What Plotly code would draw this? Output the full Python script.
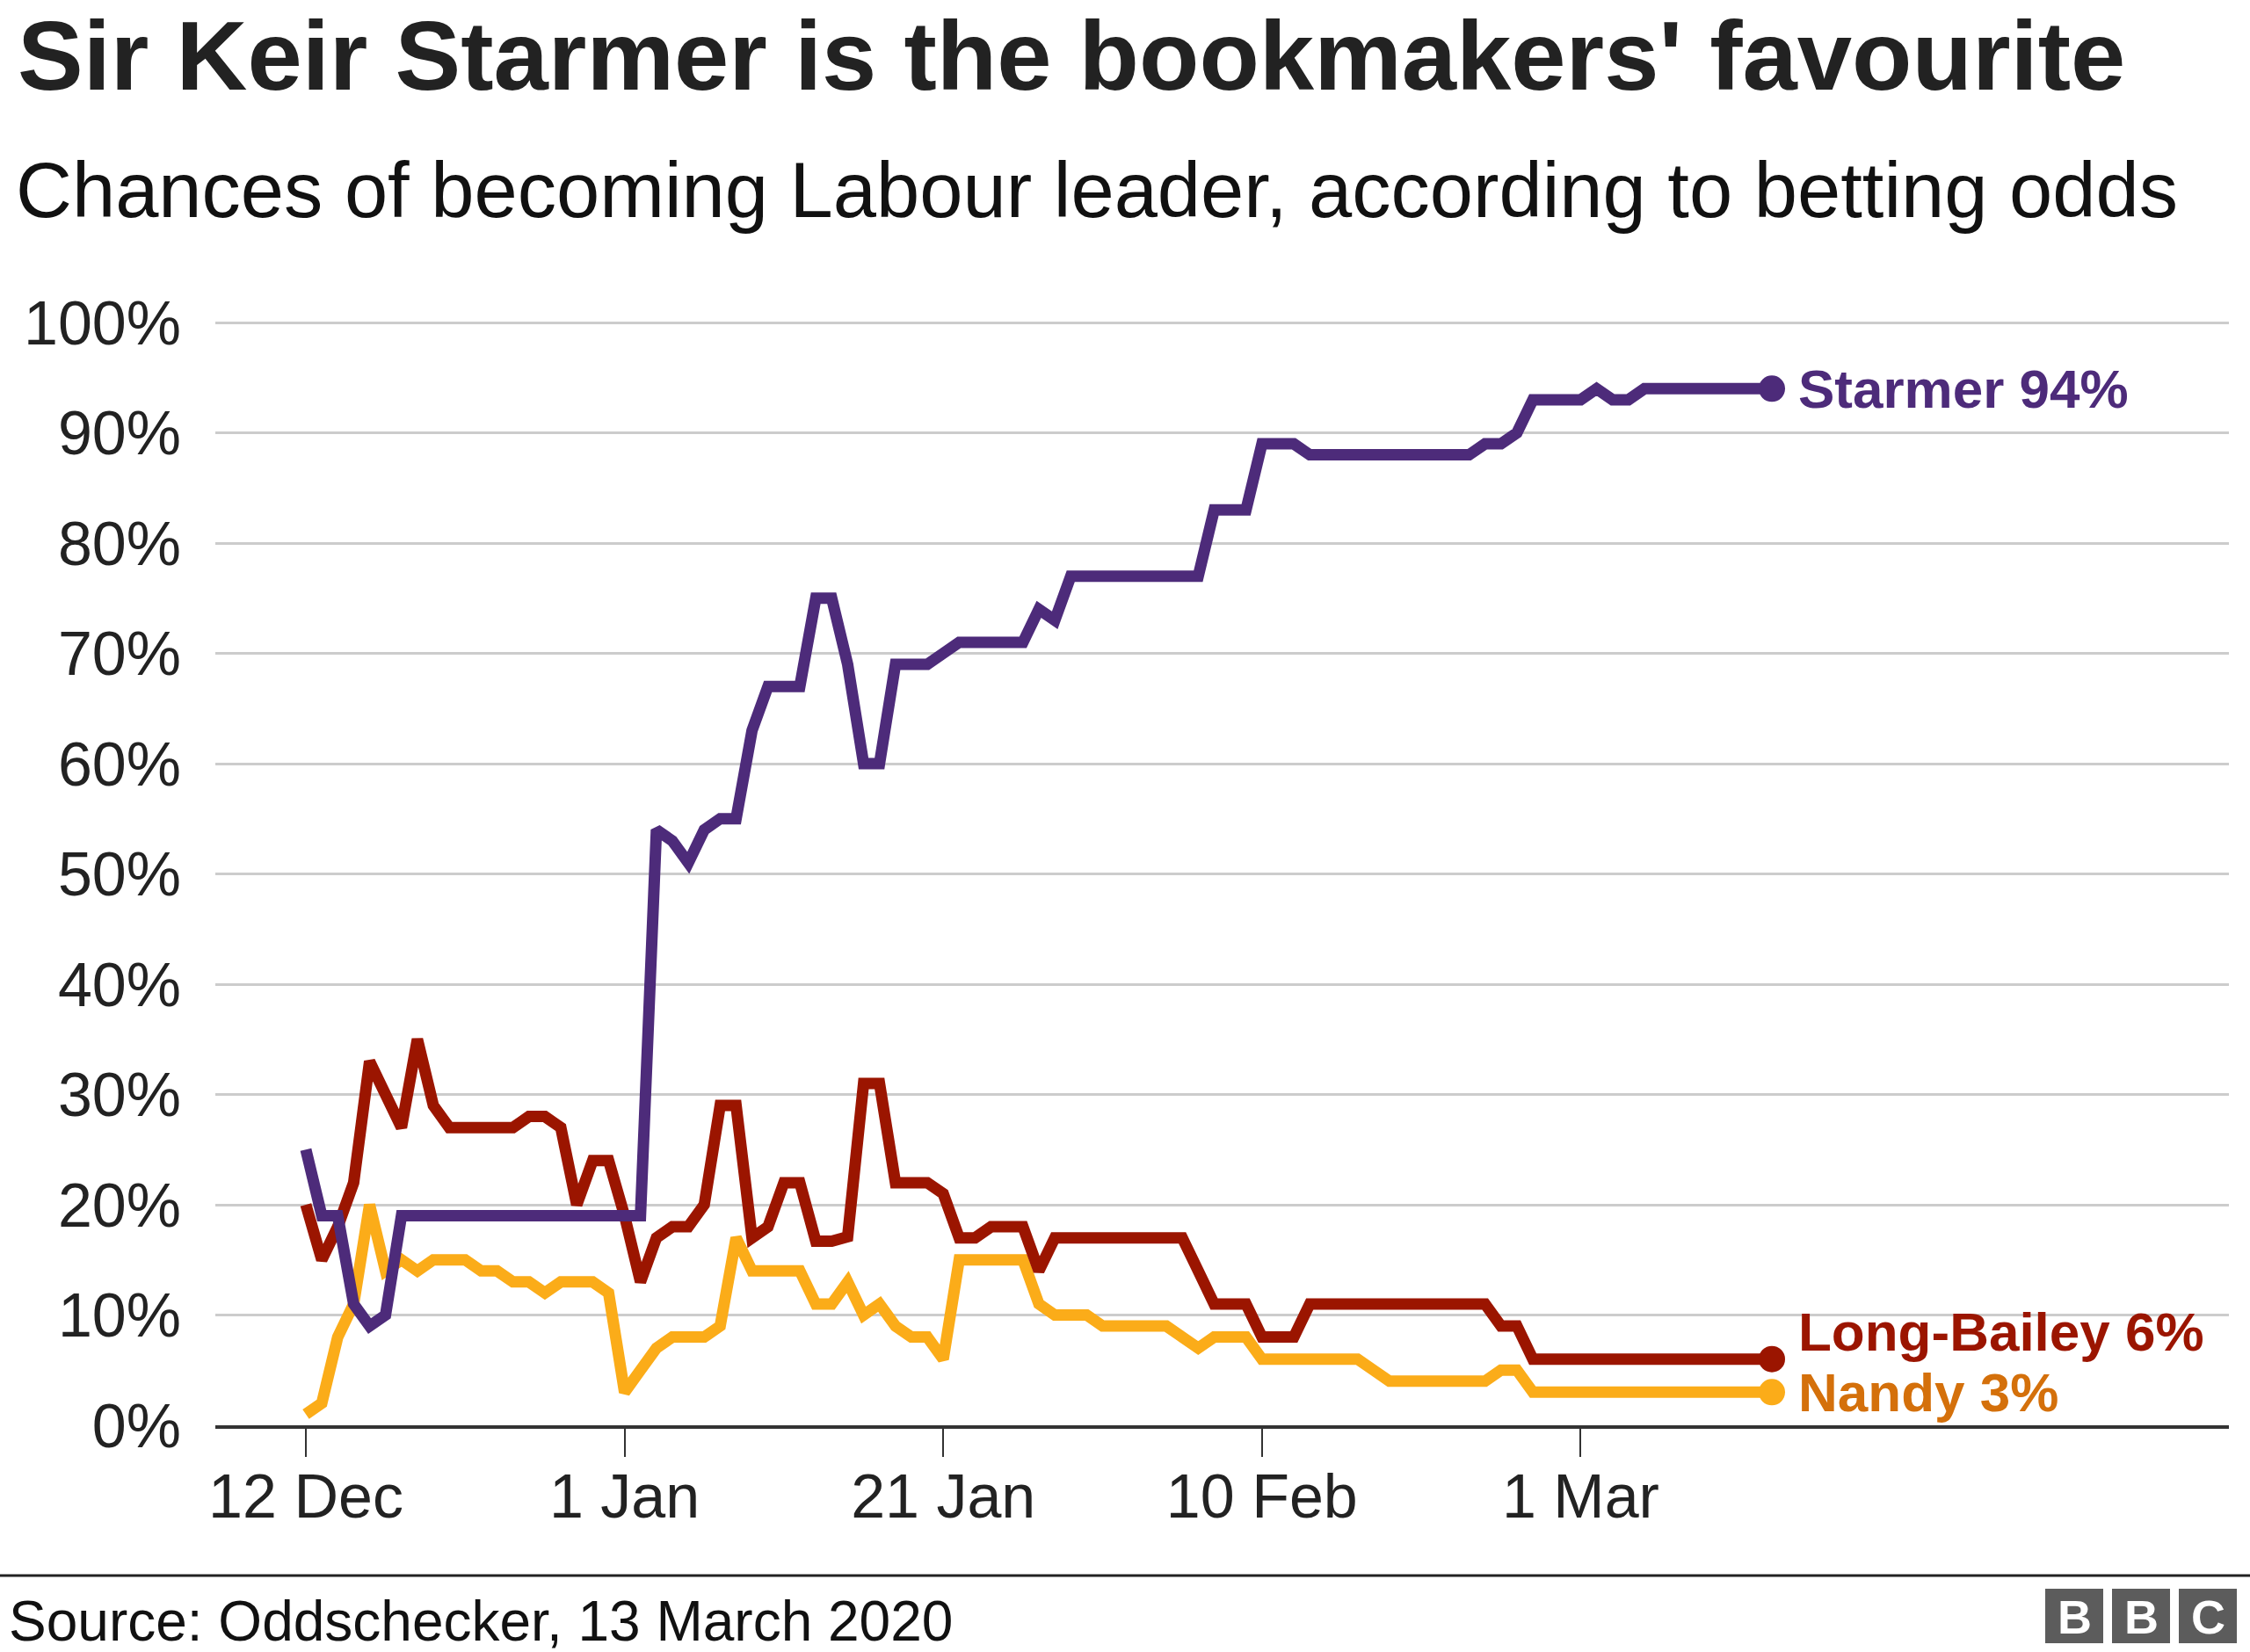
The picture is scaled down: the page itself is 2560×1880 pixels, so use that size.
import pandas as pd
import plotly.graph_objects as go

# ---------------- data ----------------
dates = pd.date_range("2019-12-12", "2020-03-13", freq="D")

starmer = [25, 19, 19, 11, 9, 10, 19, 19, 19, 19, 19, 19, 19, 19, 19, 19,
           19, 19, 19, 19, 19, 19, 54, 53, 51, 54, 55, 55, 63, 67, 67, 67,
           75, 75, 69, 60, 60, 69, 69, 69, 70, 71, 71, 71, 71, 71, 74, 73,
           77, 77, 77, 77, 77, 77, 77, 77, 77, 83, 83, 83, 89, 89, 89, 88,
           88, 88, 88, 88, 88, 88, 88, 88, 88, 88, 89, 89, 90, 93, 93, 93,
           93, 94, 93, 93, 94, 94, 94, 94, 94, 94, 94, 94, 94]

long_bailey = [20, 15, 18, 22, 33, 30, 27, 35, 29, 27, 27, 27, 27, 27, 28, 28,
               27, 20, 24, 24, 19, 13, 17, 18, 18, 20, 29, 29, 17, 18, 22, 22,
               16.7, 16.7, 17.1, 31, 31, 22, 22, 22, 21, 17, 17, 18, 18, 18, 14, 17,
               17, 17, 17, 17, 17, 17, 17, 17, 14, 11, 11, 11, 8, 8, 8, 11,
               11, 11, 11, 11, 11, 11, 11, 11, 11, 11, 11, 9, 9, 6, 6, 6,
               6, 6, 6, 6, 6, 6, 6, 6, 6, 6, 6, 6, 6]

nandy = [1, 2, 8, 11, 20, 14, 15, 14, 15, 15, 15, 14, 14, 13, 13, 12,
         13, 13, 13, 12, 3, 5, 7, 8, 8, 8, 9, 17, 14, 14, 14, 14,
         11, 11, 13, 10, 11, 9, 8, 8, 6, 15, 15, 15, 15, 15, 11, 10,
         10, 10, 9, 9, 9, 9, 9, 8, 7, 8, 8, 8, 6, 6, 6, 6,
         6, 6, 6, 5, 4, 4, 4, 4, 4, 4, 4, 5, 5, 3, 3, 3,
         3, 3, 3, 3, 3, 3, 3, 3, 3, 3, 3, 3, 3]

names = ["Starmer", "Long-Bailey", "Nandy"]
x_tick_dates = ["2019-12-12", "2020-01-01", "2020-01-21", "2020-02-10", "2020-03-01"]
x_tick_labels = ["12 Dec", "1 Jan", "21 Jan", "10 Feb", "1 Mar"]
y_tick_vals = [0, 10, 20, 30, 40, 50, 60, 70, 80, 90, 100]
y_tick_labels = [f"{v}%" for v in y_tick_vals]

title_text = "Sir Keir Starmer is the bookmakers' favourite"
subtitle_text = "Chances of becoming Labour leader, according to betting odds"
source_text = "Source: Oddschecker, 13 March 2020"

# ---------------- style ----------------
FONT = "Liberation Sans, Arial, Helvetica, sans-serif"
C_STARMER = "#4d2b7a"
C_LB = "#9b1500"
C_NANDY = "#fbac19"
C_NANDY_TXT = "#d4700b"
TXT = "#222222"

W, H = 2560, 1880
L, R, T, B = 245, 24, 360, 258
PW = W - L - R
PH = H - T - B


def px(x):
    return (x - L) / PW


def py(y):
    return (H - B - y) / PH


fig = go.Figure()

series = [("Nandy", nandy, C_NANDY), ("Long-Bailey", long_bailey, C_LB),
          ("Starmer", starmer, C_STARMER)]
for name, vals, col in series:
    fig.add_trace(go.Scatter(
        x=dates, y=vals, mode="lines", name=name,
        line=dict(color=col, width=13), hoverinfo="skip"))
    fig.add_trace(go.Scatter(
        x=[dates[-1]], y=[vals[-1]], mode="markers", name=name,
        marker=dict(color=col, size=30), hoverinfo="skip"))

# end labels
label_cfg = [("Starmer", starmer, C_STARMER, 0),
             ("Long-Bailey", long_bailey, C_LB, 31),
             ("Nandy", nandy, C_NANDY_TXT, 0)]
for name, vals, col, ys in label_cfg:
    v = vals[-1]
    fig.add_annotation(
        x=dates[-1], y=v, xref="x", yref="y", xanchor="left", yanchor="middle",
        xshift=28, yshift=ys, showarrow=False,
        text=f"<b>{name} {v:g}%</b>",
        font=dict(family=FONT, size=62, color=col))

# titles
fig.add_annotation(x=px(18), y=py(63), xref="paper", yref="paper",
                   xanchor="left", yanchor="middle", showarrow=False,
                   text=f"<b>{title_text}</b>",
                   font=dict(family=FONT, size=112, color=TXT))
fig.add_annotation(x=px(16), y=py(217), xref="paper", yref="paper",
                   xanchor="left", yanchor="middle", showarrow=False,
                   text=subtitle_text,
                   font=dict(family=FONT, size=88.5, color="#111111"))
fig.add_annotation(x=px(8), y=py(1845), xref="paper", yref="paper",
                   xanchor="left", yanchor="middle", showarrow=False,
                   text=source_text,
                   font=dict(family=FONT, size=64, color="#111111"))

# footer separator
fig.add_shape(type="line", xref="paper", yref="paper",
              x0=px(0), x1=px(W), y0=py(1793), y1=py(1793),
              line=dict(color="#222222", width=3))

# BBC blocks
for i, letter in enumerate(["B", "B", "C"]):
    x0 = 2327 + i * 76
    fig.add_shape(type="rect", xref="paper", yref="paper",
                  x0=px(x0), x1=px(x0 + 66), y0=py(1870), y1=py(1808),
                  fillcolor="#5c5c5c", line=dict(width=0))
    fig.add_annotation(x=px(x0 + 33), y=py(1840), xref="paper", yref="paper",
                       xanchor="center", yanchor="middle", showarrow=False,
                       text=f"<b>{letter}</b>",
                       font=dict(family=FONT, size=54, color="white"))

fig.update_layout(
    width=W, height=H,
    margin=dict(l=L, r=R, t=T, b=B, pad=0),
    paper_bgcolor="white", plot_bgcolor="white",
    showlegend=False,
    font=dict(family=FONT, color=TXT),
    xaxis=dict(
        type="date",
        range=["2019-12-06 07:41", "2020-04-10 16:19"],
        tickvals=x_tick_dates, ticktext=x_tick_labels,
        showgrid=False, zeroline=False,
        showline=True, linecolor="#333333", linewidth=4,
        ticks="outside", ticklen=32, tickwidth=2, tickcolor="#333333",
        tickfont=dict(family=FONT, size=70, color=TXT),
        ticklabelstandoff=-15,
    ),
    yaxis=dict(
        range=[0, 100.56],
        tickvals=y_tick_vals, ticktext=y_tick_labels,
        showgrid=True, gridcolor="#cccccc", gridwidth=3,
        zeroline=False, showline=False, ticks="",
        tickfont=dict(family=FONT, size=70, color=TXT),
        ticklabelstandoff=38,
    ),
)

fig.write_html("out.html")
